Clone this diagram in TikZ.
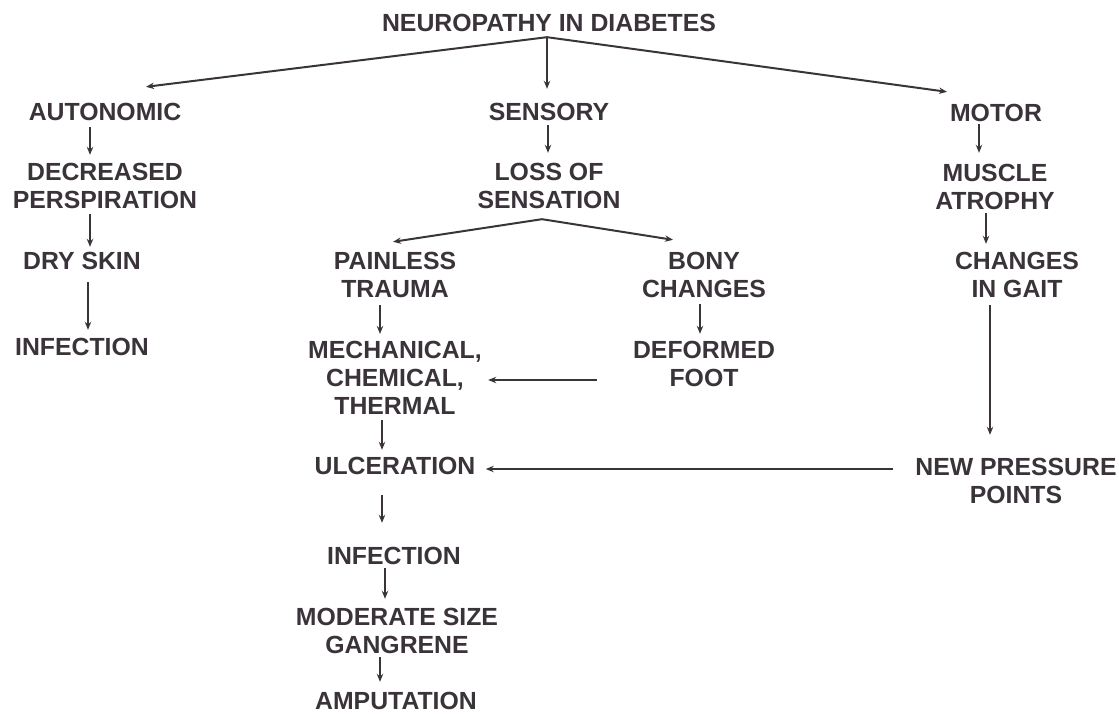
\documentclass[tikz,border=0pt]{standalone}
\usepackage{fontspec}
\setmainfont{Liberation Sans}
\usepackage{tikz}
\usetikzlibrary{arrows.meta,positioning,calc}
\definecolor{ink}{RGB}{58,52,58}

\begin{document}
\begin{tikzpicture}[x=0.5pt,y=-0.5pt,
  lbl/.style={align=center,inner sep=0pt,text=ink,font={\fontsize{12.4}{14}\selectfont\bfseries}},
  arr/.style={-{Stealth[length=4pt,width=3.2pt]},draw=ink,line width=1pt}]
\useasboundingbox (0,0) rectangle (1119,713);
% ---------- top: three kinds of neuropathy ----------
\node[lbl] (title) at (549,23) {NEUROPATHY IN DIABETES};
\node[lbl] (auton) at (105,112) {AUTONOMIC};
\node[lbl] (sens) at (549,112) {SENSORY};
\node[lbl] (motor) at (996,113) {MOTOR};
\coordinate (titlefork) at ($(title.south)+(-2,5)$);
\draw[arr] (titlefork) -- ($(auton.north)+(41,-16)$);
\draw[arr] (titlefork) -- ($(sens.north)+(-2,-14)$);
\draw[arr] (titlefork) -- ($(motor.north)+(-49,-12)$);
% ---------- autonomic column ----------
\node[lbl] (decr) at (105,186) {DECREASED\\PERSPIRATION};
\node[lbl] (dry) at (82,261) {DRY SKIN};
\node[lbl] (infa) at (82,347) {INFECTION};
\draw[arr] ($(auton.south)+(-15,6)$) -- ($(decr.north)+(-15,-8)$);
\draw[arr] ($(decr.south)+(-15,5)$) -- ($(dry.north)+(8,-5)$);
\draw[arr] ($(dry.south)+(6,12)$) -- ($(infa.north)+(6,-8)$);
% ---------- sensory column ----------
\node[lbl] (loss) at (549,186) {LOSS OF\\SENSATION};
\node[lbl] (painless) at (395,275) {PAINLESS\\TRAUMA};
\node[lbl] (bony) at (704,275) {BONY\\CHANGES};
\node[lbl] (mech) at (395,378) {MECHANICAL,\\CHEMICAL,\\THERMAL};
\node[lbl] (deform) at (704,364) {DEFORMED\\FOOT};
\node[lbl] (ulcer) at (395,466) {ULCERATION};
\node[lbl] (infb) at (394,556) {INFECTION};
\node[lbl] (gang) at (397,631) {MODERATE SIZE\\GANGRENE};
\node[lbl] (amput) at (396,701) {AMPUTATION};
\draw[arr] ($(sens.south)+(-1,4)$) -- ($(loss.north)+(-1,-10)$);
\coordinate (lossfork) at ($(loss.south)+(-7,10)$);
\draw[arr] (lossfork) -- ($(painless.north)+(-2,-10)$);
\draw[arr] (lossfork) -- ($(bony.north)+(-31,-12)$);
\draw[arr] ($(painless.south)+(-15,7)$) -- ($(mech.north)+(-15,-7)$);
\draw[arr] ($(bony.south)+(-4,6)$) -- ($(deform.north)+(-4,-7)$);
\draw[arr] ($(deform.west)+(-36,16)$) -- ($(mech.east)+(6,2)$);
\draw[arr] ($(mech.south)+(-13,5)$) -- ($(ulcer.north)+(-13,-7)$);
\draw[arr] ($(ulcer.south)+(-13,20)$) -- ($(infb.north)+(-12,-24)$);
\draw[arr] ($(infb.south)+(-9,3)$) -- ($(gang.north)+(-12,-9)$);
\draw[arr] ($(gang.south)+(-17,3)$) -- ($(amput.north)+(-16,-10)$);
% ---------- motor column ----------
\node[lbl] (muscle) at (995,187) {MUSCLE\\ATROPHY};
\node[lbl] (gait) at (1017,275) {CHANGES\\IN GAIT};
\node[lbl] (press) at (1016,481) {NEW PRESSURE\\POINTS};
\draw[arr] ($(motor.south)+(-17,2)$) -- ($(muscle.north)+(-16,-11)$);
\draw[arr] ($(muscle.south)+(-9,3)$) -- ($(gait.north)+(-31,-8)$);
\draw[arr] ($(gait.south)+(-27,7)$) -- ($(press.north)+(-26,-23)$);
\draw[arr] ($(press.west)+(-22,-12)$) -- ($(ulcer.east)+(10,3)$);
\end{tikzpicture}
\end{document}
